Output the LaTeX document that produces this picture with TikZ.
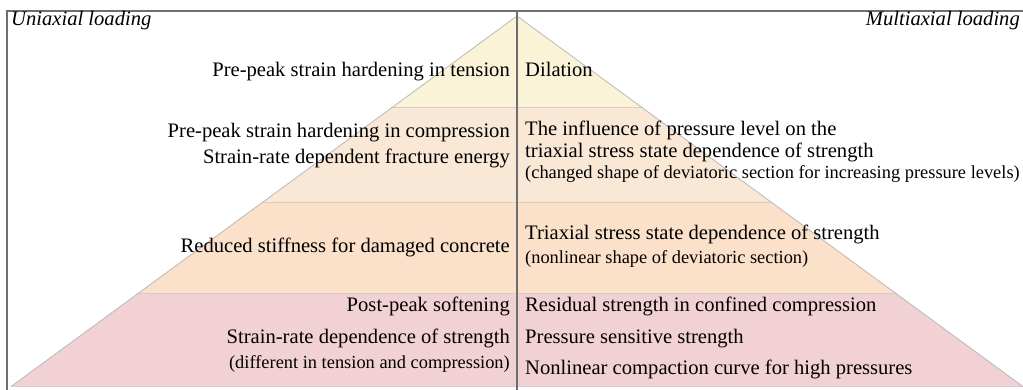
\documentclass[tikz,border=0pt]{standalone}
\usepackage{fontspec}
\setmainfont{Liberation Serif}
\usetikzlibrary{calc}
\definecolor{bandA}{RGB}{250,243,216}
\definecolor{bandB}{RGB}{250,232,214}
\definecolor{bandC}{RGB}{251,224,202}
\definecolor{bandD}{RGB}{242,209,213}
\definecolor{framegray}{RGB}{110,110,110}
\definecolor{sepgray}{RGB}{214,206,198}
\definecolor{edgegray}{RGB}{185,185,185}
\tikzset{
  mainfont/.style={font=\fontsize{20.6}{24}\selectfont},
  smallfont/.style={font=\fontsize{18.4}{21}\selectfont},
  lefttxt/.style={mainfont, anchor=base east, inner sep=0pt},
  righttxt/.style={mainfont, anchor=base west, inner sep=0pt},
  leftsmall/.style={smallfont, anchor=base east, inner sep=0pt},
  rightsmall/.style={smallfont, anchor=base west, inner sep=0pt},
  headtxt/.style={font=\fontsize{20.6}{24}\selectfont\itshape, inner sep=0pt},
  frameline/.style={draw=framegray, line width=1.3pt},
  sepline/.style={draw=sepgray, line width=1pt},
  edgeline/.style={draw=edgegray, line width=0.8pt},
}
\begin{document}
\begin{tikzpicture}[x=1pt,y=-1pt]
\useasboundingbox (0,0) rectangle (1023,390);
\coordinate (apex) at (517,16);
\coordinate (bl) at (11,386.5);
\coordinate (br) at (1023,386.5);
% band boundary points
\coordinate (l1) at ($(apex)!{92/370.5}!(bl)$);
\coordinate (r1) at ($(apex)!{92/370.5}!(br)$);
\coordinate (l2) at ($(apex)!{186/370.5}!(bl)$);
\coordinate (r2) at ($(apex)!{186/370.5}!(br)$);
\coordinate (l3) at ($(apex)!{278/370.5}!(bl)$);
\coordinate (r3) at ($(apex)!{278/370.5}!(br)$);
% fills
\fill[bandA] (apex) -- (l1) -- (r1) -- cycle;
\fill[bandB] (l1) -- (l2) -- (r2) -- (r1) -- cycle;
\fill[bandC] (l2) -- (l3) -- (r3) -- (r2) -- cycle;
\fill[bandD] (l3) -- (bl) -- (br) -- (r3) -- cycle;
% separators and outline
\draw[sepline] (l1) -- (r1);
\draw[sepline] (l2) -- (r2);
\draw[sepline] (l3) -- (r3);
\draw[sepline] (bl) -- (br);
\draw[edgeline] (bl) -- (apex) -- (br);
% frame
\coordinate (ftl) at (7,11);
\coordinate (ftr) at (1023,11);
\coordinate (fbl) at (7,390);
\coordinate (ctop) at (517,11);
\coordinate (cbot) at (517,390);
\draw[frameline] (fbl) -- (ftl) -- (ftr);
\draw[frameline] (ctop) -- (cbot);
% headings
\node[headtxt, anchor=base west] (uni) at (11,26) {Uniaxial loading};
\node[headtxt, anchor=base east] (multi) at (1020,26) {Multiaxial loading};
% row 1
\node[lefttxt] (a1) at (510,77) {Pre-peak strain hardening in tension};
\node[righttxt] (b1) at (525,77) {Dilation};
% row 2
\node[lefttxt] (a2) at (510,138) {Pre-peak strain hardening in compression};
\node[lefttxt] (a3) at (510,164) {Strain-rate dependent fracture energy};
\node[righttxt] (b2) at (525,136) {The influence of pressure level on the};
\node[righttxt] (b3) at (525,158) {triaxial stress state dependence of strength};
\node[rightsmall] (b4) at (525,179) {(changed shape of deviatoric section for increasing pressure levels)};
% row 3
\node[lefttxt] (a4) at (510,253) {Reduced stiffness for damaged concrete};
\node[righttxt] (b5) at (525,240) {Triaxial stress state dependence of strength};
\node[rightsmall] (b6) at (525,263) {(nonlinear shape of deviatoric section)};
% row 4
\node[lefttxt] (a5) at (510,311) {Post-peak softening};
\node[lefttxt] (a6) at (510,343) {Strain-rate dependence of strength};
\node[leftsmall] (a7) at (510,368) {(different in tension and compression)};
\node[righttxt] (b7) at (525,311) {Residual strength in confined compression};
\node[righttxt] (b8) at (525,343) {Pressure sensitive strength};
\node[righttxt] (b9) at (525,374) {Nonlinear compaction curve for high pressures};
\end{tikzpicture}
\end{document}
